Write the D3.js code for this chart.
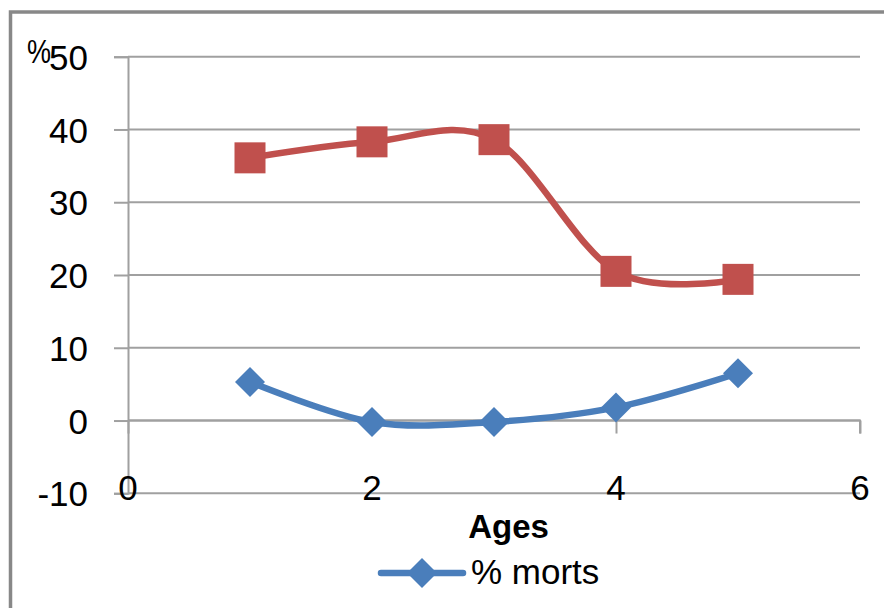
<!DOCTYPE html>
<html>
<head>
<meta charset="utf-8">
<script src="https://cdn.jsdelivr.net/npm/d3@7"></script>
<style>
  html, body { margin: 0; padding: 0; background: #fff; }
  svg { display: block; font-family: "Liberation Sans", Arial, sans-serif; }
</style>
</head>
<body>
<script>
// Ages on the x axis, percentages on the y axis
const ages = [1, 2, 3, 4, 5];
const morts = [5.3, -0.2, -0.2, 1.8, 6.5];
const series2 = [36.1, 38.3, 38.6, 20.5, 19.4];
const xTicks = [0, 2, 4, 6];
const yTicks = [-10, 0, 10, 20, 30, 40, 50];
const legendLabel = "% morts";
const xTitle = "Ages";
const yTitle = "%";

const W = 884, H = 608;
const svg = d3.select("body").append("svg").attr("width", W).attr("height", H);

// chart frame
svg.append("rect")
  .attr("x", 10.5).attr("y", 12).attr("width", 900).attr("height", 640)
  .attr("fill", "#fff").attr("stroke", "#888").attr("stroke-width", 3.5);

const x = d3.scaleLinear().domain([0, 6]).range([128, 860]);
const y = d3.scaleLinear().domain([-10, 50]).range([493.3, 56.7]);

const grid = "#a0a0a0";

// horizontal gridlines
svg.append("g").selectAll("line").data(yTicks).join("line")
  .attr("x1", x(0)).attr("x2", x(6))
  .attr("y1", d => y(d)).attr("y2", d => y(d))
  .attr("stroke", grid).attr("stroke-width", 2);

// y axis (plain hyphen for negatives)
const yAxis = svg.append("g").attr("transform", `translate(${x(0)},0)`)
  .call(d3.axisLeft(y).tickValues(yTicks).tickSize(14).tickPadding(26).tickFormat(d => String(d)));
yAxis.select(".domain").attr("stroke", grid).attr("stroke-width", 2);
yAxis.selectAll(".tick line").attr("stroke", grid).attr("stroke-width", 2);
yAxis.selectAll("text").attr("font-size", 35).attr("fill", "#000")
  .attr("font-family", "Liberation Sans, Arial, sans-serif").attr("dy", "0.36em");

// x axis line crossing at y = 0, with ticks downward
const xAxis = svg.append("g").attr("transform", `translate(0,${y(0)})`)
  .call(d3.axisBottom(x).tickValues(xTicks).tickSize(13).tickFormat(""));
xAxis.select(".domain").attr("stroke", grid).attr("stroke-width", 2).attr("d", `M${x(0)},0H${x(6)}V13`);
xAxis.selectAll(".tick line").attr("stroke", grid).attr("stroke-width", 2);

// x tick labels sit at the bottom of the plot
svg.append("g").selectAll("text").data(xTicks).join("text")
  .attr("x", d => x(d)).attr("y", 500)
  .attr("text-anchor", "middle").attr("font-size", 35).attr("fill", "#000")
  .text(d => d);

// axis titles
svg.append("text").attr("x", x(3.12)).attr("y", 538)
  .attr("text-anchor", "middle").attr("font-size", 33).attr("font-weight", "bold")
  .text(xTitle);
svg.append("text").attr("x", 39).attr("y", 63)
  .attr("text-anchor", "middle").attr("font-size", 33).attr("textLength", 24)
  .attr("lengthAdjust", "spacingAndGlyphs")
  .text(yTitle);

const line = d3.line().x(d => x(d[0])).y(d => y(d[1])).curve(d3.curveCardinal.tension(0));

const blue = "#4a7ebb", red = "#c0504d";
const diamond = d3.symbol().type(d3.symbolSquare).size(450);

function drawSeries(vals, color, marker) {
  const pts = ages.map((a, i) => [a, vals[i]]);
  svg.append("path").datum(pts).attr("d", line)
    .attr("fill", "none").attr("stroke", color).attr("stroke-width", 6.5)
    .attr("stroke-linejoin", "round").attr("stroke-linecap", "round");
  const g = svg.append("g");
  if (marker === "square") {
    g.selectAll("rect").data(pts).join("rect")
      .attr("x", d => x(d[0]) - 15.5).attr("y", d => y(d[1]) - 15.5)
      .attr("width", 31).attr("height", 31).attr("fill", color);
  } else {
    g.selectAll("path").data(pts).join("path")
      .attr("d", diamond)
      .attr("transform", d => `translate(${x(d[0])},${y(d[1])}) rotate(45)`)
      .attr("fill", color);
  }
}

drawSeries(series2, red, "square");
drawSeries(morts, blue, "diamond");

// legend
const lg = svg.append("g");
lg.append("line").attr("x1", 381).attr("x2", 463).attr("y1", 573).attr("y2", 573)
  .attr("stroke", blue).attr("stroke-width", 6.5).attr("stroke-linecap", "round");
lg.append("path").attr("d", diamond).attr("transform", "translate(422,573) rotate(45)").attr("fill", blue);
lg.append("text").attr("x", 471).attr("y", 584).attr("font-size", 35).text(legendLabel);
</script>
</body>
</html>
